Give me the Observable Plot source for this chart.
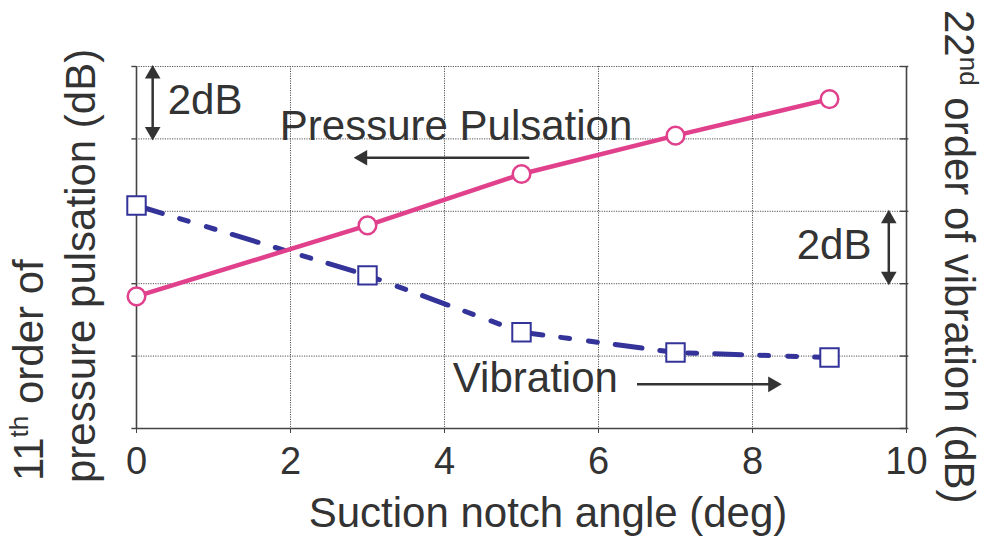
<!DOCTYPE html>
<html><head><meta charset="utf-8">
<script src="https://cdn.jsdelivr.net/npm/d3@7"></script>
<script src="https://cdn.jsdelivr.net/npm/@observablehq/plot@0.6"></script>
<style>body{margin:0;background:#fff;} #chart svg{display:block;}</style>
</head><body><div id="chart"></div>
<script>
// ---- data ----
const angles = [0, 3, 5, 7, 9];
const pressure = [3.65, 5.61, 7.03, 8.09, 9.10];   // relative dB (left axis)
const vibration = [6.16, 4.23, 2.66, 2.10, 1.96];  // relative dB (right axis)
const xTicks = [0, 2, 4, 6, 8, 10];
const yGrid = [0, 2, 4, 6, 8, 10];
const xTitle = "Suction notch angle (deg)";
const leftTitle1 = ["11", "th", " order of"];
const leftTitle2 = "pressure pulsation (dB)";
const rightTitle = ["22", "nd", " order of vibration (dB)"];
const notes = [
  {x: 0.89, y: 9.05, text: "2dB"},
  {x: 4.15, y: 8.33, text: "Pressure Pulsation"},
  {x: 9.06, y: 5.05, text: "2dB"},
  {x: 5.18, y: 1.39, text: "Vibration"}
];
// double-headed dB scale bars and direction arrows
const scaleBars = [{x: 0.21, y1: 8, y2: 10}, {x: 9.77, y1: 4, y2: 6}];
const dirArrows = [{y: 7.48, from: 5.10, to: 2.84}, {y: 1.22, from: 6.50, to: 8.36}];

const pData = angles.map((a, i) => ({x: a, y: pressure[i]}));
const vData = angles.map((a, i) => ({x: a, y: vibration[i]}));

const PINK = "#e0408c", NAVY = "#333399", INK = "#333333";
const FONT = "Liberation Sans, Arial, Helvetica, sans-serif";
const HEAD = 7.5; // arrow-head centroid offset from tip, px
const HR = 5.8;

const upHeads = scaleBars.map(b => ({x: b.x, y: b.y2}));
const downHeads = scaleBars.map(b => ({x: b.x, y: b.y1}));
const leftHeads = dirArrows.filter(a => a.to < a.from).map(a => ({x: a.to, y: a.y}));
const rightHeads = dirArrows.filter(a => a.to > a.from).map(a => ({x: a.to, y: a.y}));
const headOpts = {x: "x", y: "y", symbol: "triangle", r: HR, fill: INK, stroke: "none"};

const svg = Plot.plot({
  width: 987, height: 542,
  marginLeft: 136, marginRight: 81, marginTop: 66, marginBottom: 114,
  style: {fontFamily: FONT, fontSize: "38px", color: INK, background: "white"},
  x: {domain: [0, 10]},
  y: {domain: [0, 10], axis: null},
  marks: [
    // grid
    Plot.ruleY(yGrid.filter(d => d > 0), {stroke: "#555", strokeWidth: 1, strokeDasharray: "1.2,1.2"}),
    Plot.ruleX(xTicks.filter(d => d > 0 && d < 10), {stroke: "#555", strokeWidth: 1, strokeDasharray: "1.2,1.2"}),
    // axes frame
    Plot.ruleY([0], {stroke: "#444", strokeWidth: 1.6}),
    Plot.ruleX([0], {stroke: "#444", strokeWidth: 1.6}),
    Plot.ruleX([10], {stroke: "#444", strokeWidth: 1.6}),
    // left ticks (outward) and right ticks (crossing)
    Plot.ruleY(yGrid, {y: d => d, x1: -0.06, x2: 0, stroke: "#444", strokeWidth: 1.4}),
    Plot.ruleY(yGrid, {y: d => d, x1: 9.92, x2: 10.03, stroke: "#444", strokeWidth: 1.4}),
    Plot.axisX({ticks: xTicks, tickSize: 5, tickPadding: 14, stroke: "#444", fill: INK, label: null, fontSize: 38}),
    // series
    Plot.line(vData, {x: "x", y: "y", stroke: NAVY, strokeWidth: 5, strokeDasharray: "27,18,9,19,9,18"}),
    Plot.line(pData, {x: "x", y: "y", stroke: PINK, strokeWidth: 4.5}),
    Plot.dot(vData, {x: "x", y: "y", symbol: "square", r: 10.4, fill: "white", stroke: NAVY, strokeWidth: 2}),
    Plot.dot(pData, {x: "x", y: "y", r: 8.8, fill: "white", stroke: PINK, strokeWidth: 2.5}),
    // annotations
    Plot.link(scaleBars, {x1: "x", x2: "x", y1: d => d.y1 + 0.3, y2: d => d.y2 - 0.3, stroke: INK, strokeWidth: 2.5}),
    Plot.link(dirArrows, {x1: "from", x2: d => d.to + (d.to < d.from ? 0.12 : -0.12), y1: "y", y2: "y", stroke: INK, strokeWidth: 2.5}),
    Plot.dot(upHeads, {...headOpts, rotate: 0, dy: HEAD}),
    Plot.dot(downHeads, {...headOpts, rotate: 180, dy: -HEAD}),
    Plot.dot(leftHeads, {...headOpts, rotate: -90, dx: HEAD}),
    Plot.dot(rightHeads, {...headOpts, rotate: 90, dx: -HEAD}),
    Plot.text(notes, {x: "x", y: "y", text: "text", textAnchor: "middle", fontSize: 42, fill: INK, lineAnchor: "middle"})
  ]
});

// axis titles (real text, with superscripts)
const g = d3.select(svg).append("g").attr("fill", INK).attr("font-family", FONT)
  .attr("font-size", 42).attr("text-anchor", "start");
g.append("text").attr("x", 548).attr("y", 527).attr("text-anchor", "middle").text(xTitle);
const t1 = g.append("text").attr("transform", "translate(43,481) rotate(-90)");
t1.append("tspan").text(leftTitle1[0]);
t1.append("tspan").attr("font-size", 26).attr("dy", -15).text(leftTitle1[1]);
t1.append("tspan").attr("dy", 15).text(leftTitle1[2]);
g.append("text").attr("transform", "translate(95,483) rotate(-90)").text(leftTitle2);
const t2 = g.append("text").attr("transform", "translate(945,10) rotate(90)");
t2.append("tspan").text(rightTitle[0]);
t2.append("tspan").attr("font-size", 26).attr("dy", -15).text(rightTitle[1]);
t2.append("tspan").attr("dy", 15).text(rightTitle[2]);

document.getElementById("chart").appendChild(svg);
</script>
</body></html>
